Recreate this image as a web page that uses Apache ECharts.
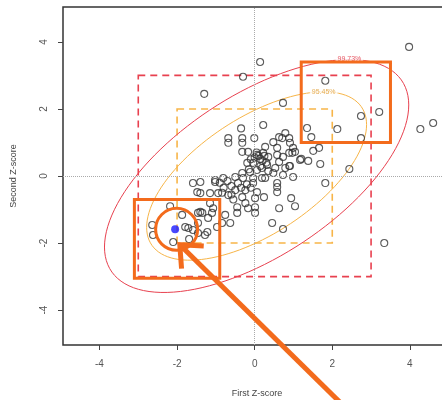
<!DOCTYPE html>
<html>
<head>
<meta charset="utf-8">
<script src="https://cdn.jsdelivr.net/npm/echarts@6/dist/echarts.min.js"></script>
<style>
  html, body { margin: 0; padding: 0; background: #fff; }
  #main { width: 442px; height: 400px; }
</style>
</head>
<body>
<div id="main"></div>
<script>
// axis setup
var xTicks = [-4, -2, 0, 2, 4]
var yTicks = [-4, -2, 0, 2, 4]
var xRange = [-4.94, 5.06]
var yRange = [-5.04, 5.04]

var points = [
  [3.98, 3.85], [0.14, 3.40], [-0.30, 2.96], [-1.30, 2.45], [1.82, 2.84], [0.73, 2.18],
  [2.74, 1.79], [3.21, 1.91], [4.27, 1.40], [4.60, 1.58], [2.13, 1.40], [1.35, 1.43],
  [1.46, 1.16], [2.74, 1.13], [2.44, 0.21], [1.82, -0.21], [1.69, 0.36], [1.51, 0.75],
  [1.66, 0.84], [3.34, -2.00],
  [-0.35, 1.42], [0.22, 1.52], [-0.01, 1.13], [-0.68, 1.13], [-0.68, 0.99], [-0.32, 1.13],
  [-0.32, 0.99], [-0.32, 0.72], [-0.17, 0.72], [0.79, 1.28], [0.71, 1.13], [0.89, 1.13],
  [0.91, 0.99], [0.48, 1.01], [0.58, 0.84], [0.99, 0.84], [1.04, 0.72], [0.97, 0.69],
  [0.27, 0.87], [0.22, 0.69], [0.35, 0.57], [0.58, 0.63], [0.73, 0.57], [0.63, 0.42],
  [0.53, 0.24], [0.32, 0.33], [0.19, 0.24], [0.79, 0.24], [0.91, 0.30], [1.17, 0.48],
  [1.38, 0.45], [0.73, 0.03], [0.99, -0.03], [0.27, -0.06], [0.48, 0.09], [0.63, 1.16],
  [0.89, 0.69], [1.20, 0.51], [0.89, 0.30],
  [0.06, 0.63], [0.14, 0.51], [-0.04, 0.39], [-0.19, 0.39], [-0.12, 0.12], [0.06, 0.18],
  [-0.32, 0.09], [-0.50, -0.03], [-0.30, -0.06], [-0.04, -0.06], [-1.02, -0.12],
  [-0.81, -0.06], [-1.40, -0.18], [0.19, -0.06], [0.10, 0.60], [0.20, 0.45], [0.00, 0.55],
  [-0.10, 0.50], [0.30, 0.40], [0.15, 0.30], [0.05, 0.70], [0.25, 0.60],
  [-0.94, -0.51], [-0.68, -0.57], [-0.43, -0.21], [-0.24, -0.42], [-0.50, -0.42],
  [-0.04, -0.21], [0.06, -0.48], [0.01, -0.66], [0.01, -0.93], [0.01, -1.10],
  [-0.32, -0.63], [-0.24, -0.81], [-0.45, -0.93], [-0.45, -1.10], [-0.17, -0.96],
  [-1.15, -0.81], [-1.07, -0.96], [-1.10, -1.10], [-1.20, -1.25], [-1.40, -1.07],
  [-1.46, -1.40], [-0.76, -1.16], [-0.63, -1.40], [-0.97, -1.52], [-1.22, -1.67],
  [-1.28, -1.76], [0.24, -0.63], [-0.84, -0.50], [-0.60, -0.55],
  [0.58, -0.21], [0.58, -0.33], [0.58, -0.48], [0.94, -0.66], [0.63, -0.96],
  [1.04, -0.90], [0.45, -1.40], [0.73, -1.58],
  [-1.59, -0.21], [-1.48, -0.48], [-2.18, -0.90], [-2.64, -1.46], [-2.62, -1.76],
  [-1.87, -1.16], [-1.79, -1.52], [-1.71, -1.55], [-1.59, -1.61], [-2.10, -1.97],
  [-1.69, -1.88], [-1.46, -1.70], [-1.46, -1.10], [-1.35, -1.10], [-1.40, -0.51],
  [-0.84, -1.40], [-1.02, -0.18], [-1.15, -0.51],
  [-0.60, -0.30], [-0.80, -0.35], [-0.90, -0.20], [-0.55, -0.70], [-0.20, -0.25],
  [-0.10, -0.35], [-0.70, -0.15], [-0.35, -0.35], [-0.15, 0.20], [0.35, 0.15]
]
var target = [[-2.05, -1.59]]

// reference boxes and confidence ellipses
var boxes95 = [[-2, -2, 2, 2]]
var boxes99 = [[-3, -3, 3, 3]]
var ellipseCenter = [0.05, 0]
var ellipseSd = [1.14, 1.01]
var ellipseRho = 0.61
var levels = [0.9545, 0.9973]
var levelLabels = ['95.45%', '99.73%']

// highlight annotations
var highlightBoxes = [[1.2, 1.0, 3.5, 3.4], [-3.1, -3.05, -0.9, -0.7]]
var arrow = [[-1.93, -2.05, 2.2, -6.75]]

function ellipse(p) {
  var r = Math.sqrt(-2 * Math.log(1 - p))
  var s = Math.sqrt(1 - ellipseRho * ellipseRho)
  var out = []
  for (var i = 0; i <= 120; i++) {
    var t = (i / 120) * Math.PI * 2
    out.push([
      ellipseCenter[0] + ellipseSd[0] * r * Math.cos(t),
      ellipseCenter[1] + ellipseSd[1] * r * (ellipseRho * Math.cos(t) + s * Math.sin(t))
    ])
  }
  return out
}
function ellipseTop(p) {
  var r = Math.sqrt(-2 * Math.log(1 - p))
  return [ellipseCenter[0] + ellipseRho * ellipseSd[0] * r, ellipseCenter[1] + ellipseSd[1] * r]
}

function boxRender(style) {
  return function (params, api) {
    var a = api.coord([api.value(0), api.value(1)])
    var b = api.coord([api.value(2), api.value(3)])
    return {
      type: 'rect',
      shape: {
        x: Math.min(a[0], b[0]), y: Math.min(a[1], b[1]),
        width: Math.abs(b[0] - a[0]), height: Math.abs(b[1] - a[1])
      },
      style: Object.assign({ fill: 'none' }, style)
    }
  }
}

var red = '#e8414f'
var gold = '#f7b548'
var hl = '#f36b1c'

const myCharts = echarts.init(document.getElementById('main'))
const option = {
  animation: false,
  backgroundColor: '#fff',
  textStyle: { fontFamily: 'Liberation Sans, Arial, sans-serif' },
  grid: {
    left: 63, top: 7, width: 388, height: 338,
    show: true, borderColor: '#333', borderWidth: 1.5,
    outerBoundsMode: 'none'
  },
  xAxis: {
    type: 'value', min: xRange[0], max: xRange[1],
    name: 'First Z-score', nameLocation: 'middle', nameGap: 44,
    nameTextStyle: { fontSize: 9, color: '#444' },
    axisLine: { show: false, onZero: false },
    splitLine: { show: false },
    axisTick: { show: true, length: 5, customValues: xTicks, lineStyle: { color: '#444' } },
    axisLabel: { customValues: xTicks, fontSize: 10, color: '#555', margin: 14 }
  },
  yAxis: {
    type: 'value', min: yRange[0], max: yRange[1],
    name: 'Second Z-score', nameLocation: 'middle', nameGap: 45,
    nameTextStyle: { fontSize: 9, color: '#444' },
    axisLine: { show: false, onZero: false },
    splitLine: { show: false },
    axisTick: { show: true, length: 5, customValues: yTicks, lineStyle: { color: '#444' } },
    axisLabel: { customValues: yTicks, fontSize: 10, color: '#555', rotate: 90, margin: 14 }
  },
  series: [
    {
      type: 'line', silent: true, data: [],
      markLine: {
        silent: true, symbol: 'none', label: { show: false },
        lineStyle: { color: '#aaa', type: 'dotted', width: 1 },
        data: [{ xAxis: 0 }, { yAxis: 0 }]
      }
    },
    {
      type: 'custom', data: boxes99, encode: { x: [0, 2], y: [1, 3] },
      renderItem: boxRender({ stroke: red, lineWidth: 1.6, lineDash: [7, 5] })
    },
    {
      type: 'custom', data: boxes95, encode: { x: [0, 2], y: [1, 3] },
      renderItem: boxRender({ stroke: gold, lineWidth: 1.6, lineDash: [7, 5] })
    },
    {
      type: 'line', data: ellipse(levels[0]), showSymbol: false, silent: true,
      lineStyle: { color: gold, width: 1 }
    },
    {
      type: 'line', data: ellipse(levels[1]), showSymbol: false, silent: true,
      lineStyle: { color: red, width: 1 }
    },
    {
      type: 'scatter', symbol: 'circle', symbolSize: 0, silent: true, z: 3,
      data: [
        { value: ellipseTop(levels[0]), label: { color: '#e09a2a' } },
        { value: ellipseTop(levels[1]), label: { color: '#e0303f' } }
      ],
      label: {
        show: true, position: 'inside', fontSize: 7,
        backgroundColor: '#fff', padding: [0, 2],
        formatter: function (p) { return levelLabels[p.dataIndex] }
      }
    },
    {
      type: 'scatter', data: points, symbol: 'circle', symbolSize: 7, z: 4,
      itemStyle: { color: 'rgba(0,0,0,0)', borderColor: '#333', borderWidth: 1.1 }
    },
    {
      type: 'scatter', data: target, symbol: 'circle', symbolSize: 8, z: 5,
      itemStyle: { color: '#1a1aff' }
    },
    {
      type: 'custom', data: highlightBoxes, encode: { x: [0, 2], y: [1, 3] }, z: 6,
      renderItem: boxRender({ stroke: hl, lineWidth: 3 })
    },
    {
      type: 'custom', data: target, z: 6,
      renderItem: function (params, api) {
        var c = api.coord([api.value(0), api.value(1)])
        return {
          type: 'circle', shape: { cx: c[0] + 1.5, cy: c[1], r: 21 },
          style: { fill: 'none', stroke: hl, lineWidth: 3 }
        }
      }
    },
    {
      type: 'custom', data: arrow, clip: false, z: 7,
      renderItem: function (params, api) {
        var tip = api.coord([api.value(0), api.value(1)])
        var tail = api.coord([api.value(2), api.value(3)])
        var ang = Math.atan2(tail[1] - tip[1], tail[0] - tip[0])
        var len = 24, spread = 0.72
        var w1 = [tip[0] + len * Math.cos(ang + spread), tip[1] + len * Math.sin(ang + spread)]
        var w2 = [tip[0] + len * Math.cos(ang - spread), tip[1] + len * Math.sin(ang - spread)]
        return {
          type: 'group',
          children: [
            { type: 'line', shape: { x1: tip[0], y1: tip[1], x2: tail[0], y2: tail[1] },
              style: { stroke: hl, lineWidth: 5 } },
            { type: 'polyline', shape: { points: [w1, tip, w2] },
              style: { stroke: hl, lineWidth: 5, fill: 'none', lineJoin: 'miter' } }
          ]
        }
      }
    }
  ]
}
myCharts.setOption(option)
</script>
</body>
</html>
